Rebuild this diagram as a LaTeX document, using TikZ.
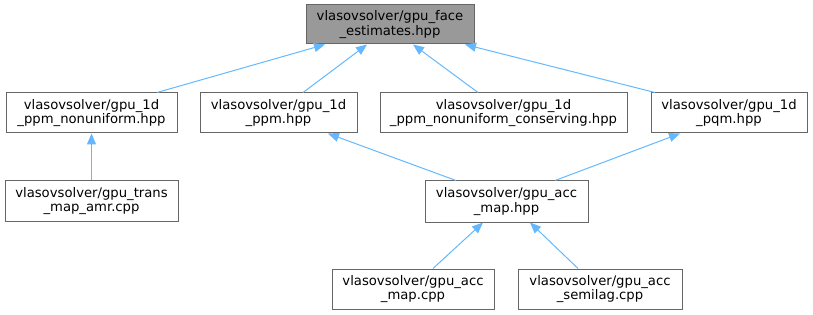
\documentclass[tikz,border=0pt]{standalone}
\usepackage{fontspec}
\setmainfont{DejaVu Sans}
\usetikzlibrary{arrows.meta}
\definecolor{edgeblue}{HTML}{63B8FF}
\definecolor{boxborder}{HTML}{666666}
\definecolor{topfill}{HTML}{999999}
\begin{document}
\begin{tikzpicture}[x=1pt,y=-1pt,
  box/.style={draw=boxborder,fill=white,line width=1pt,rectangle,align=center,inner sep=0pt,
    font=\fontsize{13.2}{14.5}\selectfont},
  dep/.style={draw=edgeblue,line width=1pt,{Triangle[length=11pt,width=9pt,fill=edgeblue]}-}]
\useasboundingbox (0,0) rectangle (813,315);
\node[box,fill=topfill,minimum width=168pt,minimum height=39pt] (top) at (390,24.5) {vlasovsolver/gpu\_face\\\_estimates.hpp};
\node[box,minimum width=171pt,minimum height=40pt] (A) at (91.5,113) {vlasovsolver/gpu\_1d\\\_ppm\_nonuniform.hpp};
\node[box,minimum width=157pt,minimum height=40pt] (B) at (278.5,113) {vlasovsolver/gpu\_1d\\\_ppm.hpp};
\node[box,minimum width=247pt,minimum height=40pt] (C) at (503.5,113) {vlasovsolver/gpu\_1d\\\_ppm\_nonuniform\_conserving.hpp};
\node[box,minimum width=156pt,minimum height=40pt] (D) at (729,113) {vlasovsolver/gpu\_1d\\\_pqm.hpp};
\node[box,minimum width=173pt,minimum height=40pt] (E) at (91.5,201) {vlasovsolver/gpu\_trans\\\_map\_amr.cpp};
\node[box,minimum width=163pt,minimum height=41pt] (F) at (506.5,201.5) {vlasovsolver/gpu\_acc\\\_map.hpp};
\node[box,minimum width=162pt,minimum height=40pt] (G) at (413,289) {vlasovsolver/gpu\_acc\\\_map.cpp};
\node[box,minimum width=164pt,minimum height=40pt] (H) at (600,289) {vlasovsolver/gpu\_acc\\\_semilag.cpp};
\draw[dep] ([xshift=-65pt]top.south) -- ([xshift=65.5pt]A.north);
\draw[dep] ([xshift=-23pt]top.south) -- ([xshift=24.5pt]B.north);
\draw[dep] ([xshift=23pt]top.south) -- ([xshift=-25.5pt]C.north);
\draw[dep] ([xshift=75pt]top.south) -- ([xshift=-74pt]D.north);
\draw[dep] (A.south) -- (E.north);
\draw[dep] ([xshift=49.5pt]B.south) -- ([xshift=-50.5pt]F.north);
\draw[dep] ([xshift=-49pt]D.south) -- ([xshift=48.5pt]F.north);
\draw[dep] ([xshift=-23.5pt]F.south) -- ([xshift=20pt]G.north);
\draw[dep] ([xshift=23.5pt]F.south) -- ([xshift=-22pt]H.north);
\end{tikzpicture}
\end{document}
